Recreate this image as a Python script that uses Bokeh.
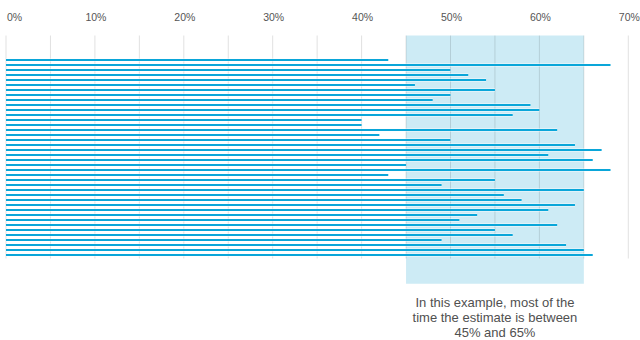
from bokeh.plotting import figure
from bokeh.models import Range1d, ColumnDataSource
from bokeh.embed import file_html
from bokeh.resources import INLINE
from bokeh.core.properties import value

# ---- data ----
estimates = [43, 68, 50, 52, 54, 46, 55, 50, 48, 59,
             60, 57, 40, 40, 62, 42, 50, 64, 67, 61,
             66, 45, 68, 43, 55, 49, 65, 56, 58, 64,
             61, 53, 51, 62, 55, 57, 49, 63, 65, 66]
tick_values = [0, 10, 20, 30, 40, 50, 60, 70]
tick_labels = ["0%", "10%", "20%", "30%", "40%", "50%", "60%", "70%"]
grid_values = [0, 5, 10, 15, 20, 25, 30, 35, 40, 45, 50, 55, 60, 65, 70]
range_low, range_high = 45, 65
note_lines = ["In this example, most of the",
              "time the estimate is between",
              "45% and 65%"]

# ---- layout ----
PX = 8.89   # pixels per percent
X0 = 5.5    # pixel of 0%
FONT = "Liberation Sans"

p = figure(width=640, height=340, output_backend="svg", toolbar_location=None,
           x_range=Range1d(-X0 / PX, (640 - X0) / PX),
           y_range=Range1d(56.1, -11.9), min_border=0)
p.outline_line_color = None
p.axis.visible = False
p.grid.visible = False
p.background_fill_color = "white"
p.border_fill_color = "white"

top_y, grid_bottom, shade_bottom = -4.9, 39.7, 44.75

# shaded range
p.quad(left=[range_low], right=[range_high], top=[top_y], bottom=[shade_bottom],
       fill_color="#cdebf5", line_color=None)

# grid lines
p.segment(x0=grid_values, y0=top_y, x1=grid_values, y1=grid_bottom,
          line_color="black", line_alpha=0.12, line_width=1)

# bars
ys = list(range(len(estimates)))
src = ColumnDataSource(dict(y=ys, v=estimates))
p.segment(x0=0, y0="y", x1="v", y1="y", source=src,
          line_color="white", line_width=3.2, line_alpha=0.8)
p.segment(x0=0, y0="y", x1="v", y1="y", source=src,
          line_color="#0aa6d9", line_width=2)

# tick labels
tsrc = ColumnDataSource(dict(x=tick_values, t=tick_labels,
                             a=["left" if v == 0 else "center" for v in tick_values]))
p.text(x="x", y=-8.7, text="t", source=tsrc, text_align="a",
       text_baseline="middle", text_font=value(FONT), text_font_size="10.5px",
       text_color="#555555", x_offset=1)

# note
nsrc = ColumnDataSource(dict(y=[48.44, 51.44, 54.44], t=note_lines))
p.text(x=(range_low + range_high) / 2, y="y", text="t", source=nsrc,
       text_align="center", text_baseline="middle", text_font=value(FONT),
       text_font_size="13px", text_color="#505050")

open("out.html", "w").write(file_html(p, INLINE))
